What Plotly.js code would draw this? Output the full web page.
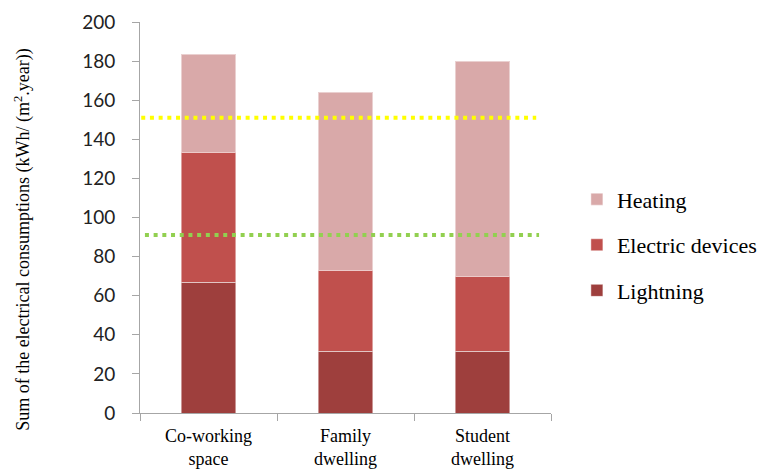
<!DOCTYPE html>
<html>
<head>
<meta charset="utf-8">
<script src="https://cdn.plot.ly/plotly-3.0.1.min.js"></script>
<style>
  html, body { margin: 0; padding: 0; background: #fff; }
  #chart { width: 774px; height: 469px; }
</style>
</head>
<body>
<div id="chart"></div>
<script>
// Building types on the x axis
const categories = ["Co-working<br>space", "Family<br>dwelling", "Student<br>dwelling"];

// Stacked components, kWh/(m².year)
const lightning = [67, 31.5, 31.5];
const electricDevices = [66.5, 41.5, 38.5];
const heating = [50, 91, 110];

// Horizontal reference levels (yellow, green)
const refLevels = [151, 91];
const refColors = ["#ffff00", "#92d050"];

const yTicks = [0, 20, 40, 60, 80, 100, 120, 140, 160, 180, 200];

const serif = "Liberation Serif";
const barLine = { color: "rgba(255,255,255,0.45)", width: 1 };

const traces = [
  { name: "Lightning", y: lightning, color: "#9e3f3d", rank: 3 },
  { name: "Electric devices", y: electricDevices, color: "#c0504d", rank: 2 },
  { name: "Heating", y: heating, color: "#d9a9a9", rank: 1 }
].map(s => ({
  type: "bar",
  x: categories,
  y: s.y,
  name: s.name,
  legendgroup: s.name,
  legendrank: s.rank,
  width: 0.4,
  marker: { color: s.color, line: barLine },
  hoverinfo: "skip"
}));

const shapes = refLevels.map((lvl, i) => ({
  type: "line",
  xref: "paper", yref: "y",
  x0: i === 0 ? 0.003 : 0.012,
  x1: i === 0 ? 0.964 : 0.971,
  y0: lvl, y1: lvl,
  line: { color: refColors[i], width: 4, dash: "4px,4.7px" },
  layer: "above"
}));

const axisGrey = "#a6a6a6";

const layout = {
  width: 774, height: 469,
  margin: { l: 140, r: 219, t: 22, b: 56, pad: 0 },
  paper_bgcolor: "#fff", plot_bgcolor: "#fff",
  barmode: "stack",
  showlegend: true,
  legend: {
    x: 1.063, xanchor: "left",
    y: 0.43, yanchor: "middle",
    traceorder: "grouped",
    tracegroupgap: 14,
    font: { family: serif, size: 22, color: "#000" },
    bgcolor: "rgba(0,0,0,0)"
  },
  xaxis: {
    type: "category",
    tickson: "boundaries",
    ticks: "outside", ticklen: 7, tickcolor: axisGrey, tickwidth: 1,
    showline: true, linecolor: axisGrey, linewidth: 1,
    showgrid: false, zeroline: false,
    ticklabelstandoff: 6,
    tickfont: { family: serif, size: 18, color: "#000" }
  },
  yaxis: {
    range: [0, 200],
    tickvals: yTicks,
    ticks: "outside", ticklen: 7, tickcolor: axisGrey, tickwidth: 1,
    showline: true, linecolor: axisGrey, linewidth: 1,
    showgrid: false, zeroline: false,
    ticklabelstandoff: 13,
    tickfont: { family: "Lato", size: 19, color: "#222" }
  },
  shapes: shapes,
  annotations: [{
    text: "Sum of the electrical consumptions (kWh/ (m<sup>2</sup>.year))",
    xref: "paper", yref: "paper",
    x: -0.285, y: 0.445,
    xanchor: "center", yanchor: "middle",
    textangle: -90,
    showarrow: false,
    font: { family: serif, size: 18, color: "#000" }
  }]
};

Plotly.newPlot("chart", traces, layout, { displayModeBar: false, staticPlot: true });
</script>
</body>
</html>
